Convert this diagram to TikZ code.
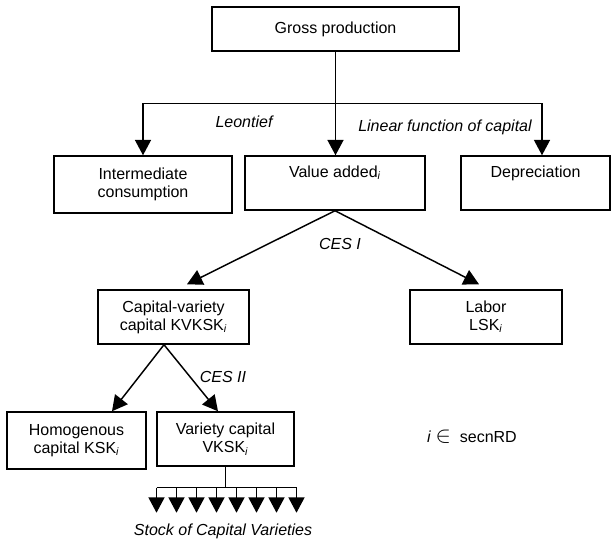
\documentclass[tikz,border=0pt]{standalone}
\usepackage{fontspec}
\setmainfont{Liberation Sans}
\usetikzlibrary{arrows.meta,positioning,calc}
\newcommand{\diagfont}{\fontsize{12}{13.5}\selectfont}
\newcommand{\sub}[1]{\textsubscript{\textit{#1}}}

\begin{document}
\begin{tikzpicture}[x=0.75pt,y=-0.75pt,
    box/.style={draw, line width=1.1pt, inner sep=0pt, align=center, font=\diagfont},
    lbl/.style={font=\diagfont\itshape},
    conn/.style={line width=1.1pt},
    tip/.style={conn, -{Triangle[length=11.5pt,width=12pt]}}]
    \useasboundingbox (0,0) rectangle (611,539);

    % Top level
    \node[box, minimum width=185.25pt, minimum height=33pt] (gross) at (335.5,29) {Gross production};

    \node[box, minimum width=133.5pt, minimum height=42.75pt] (inter) at (143,184.5) {Intermediate\\consumption};
    \node[box, minimum width=135pt, minimum height=40.5pt] (value) at (335,183) {Value added\sub{i}\\\strut};
    \node[box, minimum width=111.75pt, minimum height=40.5pt] (deprec) at (535.5,183) {Depreciation\\\strut};

    \draw[conn] (gross.south) -- ++(0,52) coordinate (split);
    \draw[tip] (split) -| (inter.north);
    \draw[tip] (split) -- (split |- value.north);
    \draw[tip] (split) -| ($(deprec.north)+(6.5,0)$);

    \node[lbl] (leontief) at (244,122) {Leontief};
    \node[lbl] (linear) at (445,127) {Linear function of capital};

    % CES I
    \node[box, minimum width=113.25pt, minimum height=40.5pt] (kvksk) at (173.5,317) {Capital-variety\\capital KVKSK\sub{i}};
    \node[box, minimum width=114pt, minimum height=40.5pt] (labor) at (486,317) {Labor\\LSK\sub{i}};

    \draw[tip] (value.south) -- ($(kvksk.north)+(13.5,-5)$);
    \draw[tip] (value.south) -- ($(labor.north)+(-7,-5)$);
    \node[lbl] (cesone) at (340,244) {CES I};

    % CES II
    \node[box, minimum width=104.25pt, minimum height=42.75pt] (homog) at (76.5,440.5) {Homogenous\\capital KSK\sub{i}};
    \node[box, minimum width=102.75pt, minimum height=40.5pt] (variety) at (225.5,439) {Variety capital\\VKSK\sub{i}};

    \coordinate (kvfork) at ($(kvksk.south)+(-9.5,0)$);
    \draw[tip] (kvfork) -- ($(homog.north)+(35.5,0)$);
    \draw[tip] (kvfork) -- ($(variety.north)+(-7.5,0)$);
    \node[lbl] (cestwo) at (223,377) {CES II};

    % Stock of varieties
    \draw[line width=0.8pt] (variety.south) -- ++(0,21) coordinate (stock);
    \draw[conn] ($(stock)+(-69,0)$) -- ($(stock)+(71,0)$);
    \foreach \k in {0,...,7}
        \draw[tip] ($(stock)+(-69+20*\k,0)$) -- ++(0,25);
    \node[lbl] (stocklbl) at (223,531) {Stock of Capital Varieties};

    \node[font=\diagfont] (irange) at (472,437) {\textit{i}~{\fontsize{16}{16}\selectfont$\in$}\ \ secnRD};
\end{tikzpicture}
\end{document}
